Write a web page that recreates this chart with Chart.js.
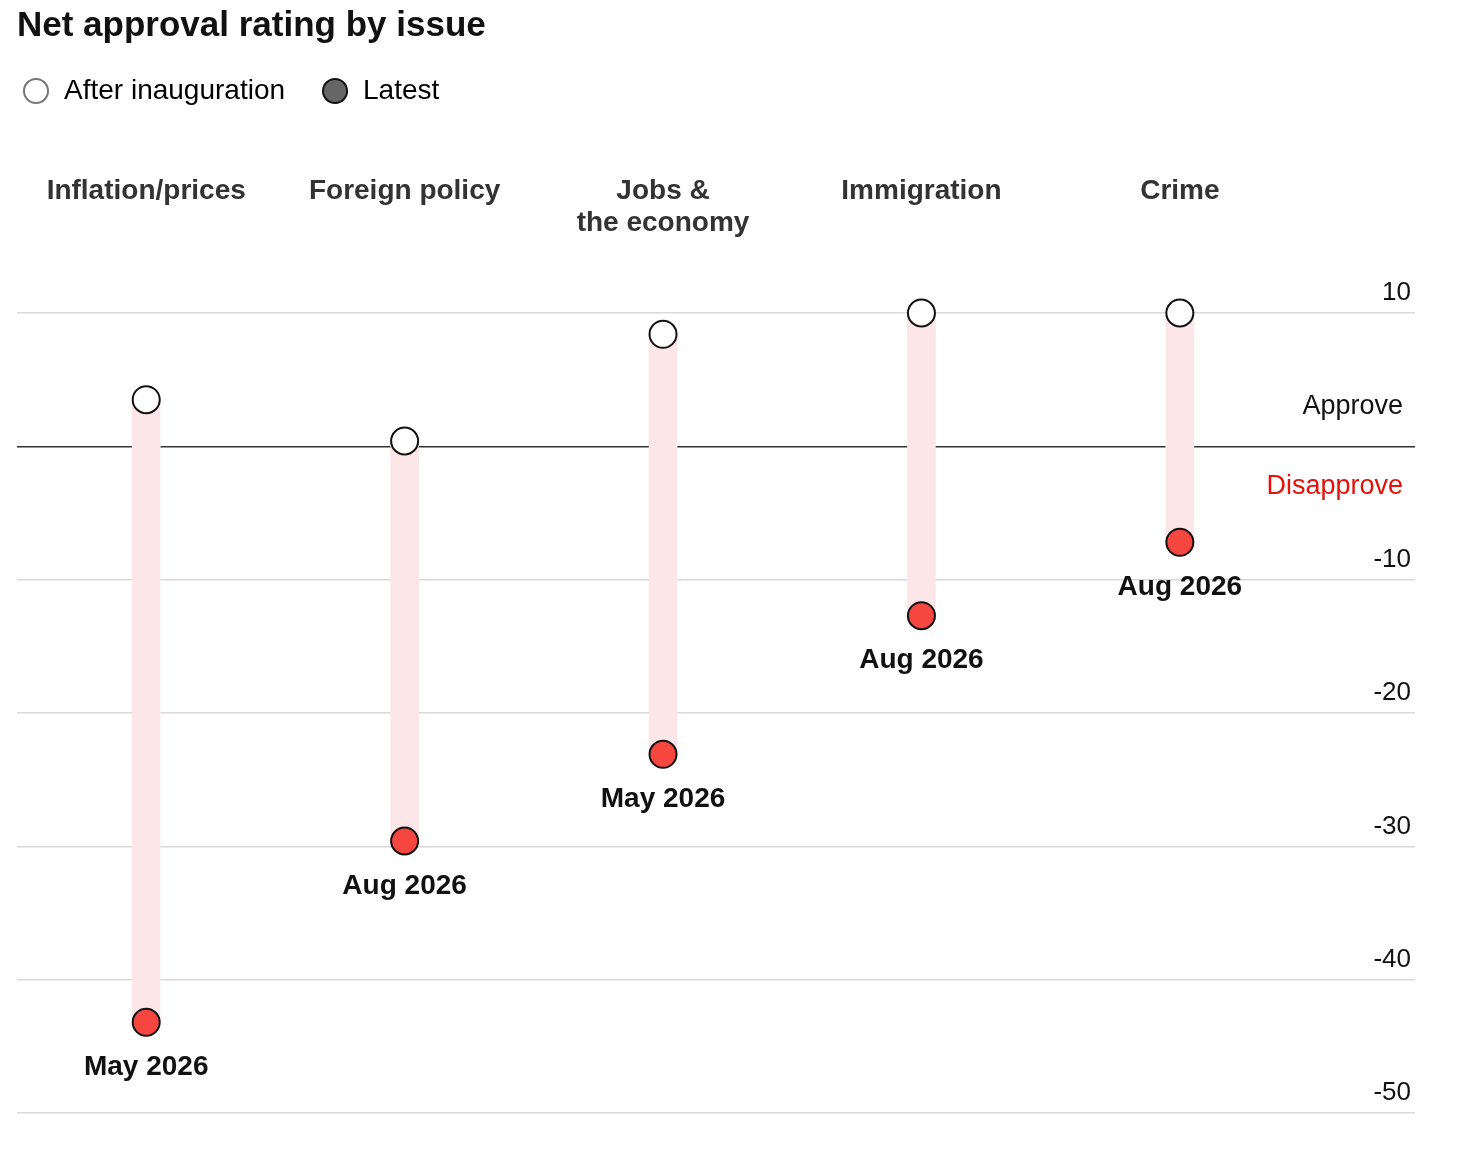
<!DOCTYPE html>
<html>
<head>
<meta charset="utf-8">
<script src="https://cdn.jsdelivr.net/npm/chart.js@4.4.1/dist/chart.umd.min.js"></script>
<style>
  html, body { margin: 0; padding: 0; background: #ffffff; }
  #wrap { width: 1466px; height: 1152px; position: relative; }
</style>
</head>
<body>
<div id="wrap"><canvas id="chart"></canvas></div>
<script>
// ---- Data ----
const categories = ['Inflation/prices', 'Foreign policy', ['Jobs &', 'the economy'], 'Immigration', 'Crime'];
const afterInauguration = [3.5, 0.4, 8.4, 10, 10];
const latest = [-43.2, -29.6, -23.1, -12.7, -7.2];
const latestDates = ['May 2026', 'Aug 2026', 'May 2026', 'Aug 2026', 'Aug 2026'];
const seriesNames = ['After inauguration', 'Latest'];
const yMin = -50, yMax = 10, yStep = 10;

// ---- Styles ----
const FONT = '"Liberation Sans", Arial, sans-serif';
const RED = '#f5463f';
const PINK = '#fde6e8';

const annotations = {
  id: 'annotations',
  afterLayout(chart) {
    chart.legend.left = 22 - chart.options.plugins.legend.labels.padding;
  },
  afterDatasetsDraw(chart) {
    const ctx = chart.ctx;
    const meta = chart.getDatasetMeta(1);
    ctx.save();
    ctx.font = 'bold 28px ' + FONT;
    ctx.fillStyle = '#111';
    ctx.textAlign = 'center';
    ctx.textBaseline = 'middle';
    meta.data.forEach((pt, i) => {
      ctx.fillText(latestDates[i], pt.x, pt.y + 45);
    });
    const y0 = chart.scales.y.getPixelForValue(0);
    const xr = chart.chartArea.right - 12;
    ctx.font = '27px ' + FONT;
    ctx.textAlign = 'right';
    ctx.fillStyle = '#111';
    ctx.fillText('Approve', xr, y0 - 40);
    ctx.fillStyle = '#e3120b';
    ctx.fillText('Disapprove', xr, y0 + 40);
    ctx.restore();
  }
};

new Chart(document.getElementById('chart'), {
  type: 'bar',
  data: {
    datasets: [
      {
        type: 'scatter',
        label: seriesNames[0],
        data: afterInauguration.map((v, i) => ({ x: i, y: v })),
        pointRadius: 13.5,
        pointHoverRadius: 13.5,
        pointBackgroundColor: '#ffffff',
        pointBorderColor: '#111111',
        pointBorderWidth: 2,
        clip: false
      },
      {
        type: 'scatter',
        label: seriesNames[1],
        data: latest.map((v, i) => ({ x: i, y: v })),
        pointRadius: 13.5,
        pointHoverRadius: 13.5,
        pointBackgroundColor: RED,
        pointBorderColor: '#111111',
        pointBorderWidth: 2,
        clip: false
      },
      {
        type: 'bar',
        label: 'range',
        data: afterInauguration.map((v, i) => ({ x: i, y: [v, latest[i]] })),
        backgroundColor: PINK,
        borderWidth: 0,
        barThickness: 28
      }
    ]
  },
  options: {
    responsive: true,
    maintainAspectRatio: false,
    animation: false,
    events: [],
    layout: { padding: { left: 17, right: 51, top: 0, bottom: 39 } },
    plugins: {
      tooltip: { enabled: false },
      title: {
        display: true,
        text: 'Net approval rating by issue',
        align: 'start',
        color: '#111',
        font: { family: FONT, weight: 'bold', size: 35, lineHeight: 1 },
        padding: { top: 9, bottom: -3 }
      },
      legend: {
        display: true,
        align: 'start',
        labels: {
          font: { family: FONT, size: 28 },
          color: '#111',
          usePointStyle: true,
          boxWidth: 28,
          boxHeight: 17,
          padding: 36,
          generateLabels: () => [
            { text: seriesNames[0], fillStyle: '#ffffff', strokeStyle: '#777777', lineWidth: 2, pointStyle: 'circle', hidden: false, datasetIndex: 0 },
            { text: seriesNames[1], fillStyle: '#666666', strokeStyle: '#111111', lineWidth: 2, pointStyle: 'circle', hidden: false, datasetIndex: 1 }
          ]
        }
      }
    },
    scales: {
      x: {
        type: 'linear',
        position: 'top',
        min: -0.5,
        max: 4.91,
        offset: false,
        grid: { display: false },
        border: { display: false },
        afterBuildTicks: (scale) => { scale.ticks = categories.map((_, i) => ({ value: i })); },
        afterFit: (scale) => { scale.height = 198; scale.paddingLeft = 0; scale.paddingRight = 0; },
        ticks: {
          autoSkip: false,
          maxRotation: 0,
          minRotation: 0,
          crossAlign: 'far',
          padding: 66,
          color: '#333',
          font: { family: FONT, weight: 'bold', size: 28, lineHeight: 32 / 28 },
          callback: (v) => categories[v]
        }
      },
      y: {
        type: 'linear',
        position: 'right',
        min: yMin,
        max: yMax,
        grid: {
          drawTicks: false,
          color: (c) => (c.tick && c.tick.value === 0 ? '#333333' : '#d9d9d9'),
          lineWidth: 1.6
        },
        border: { display: false },
        afterFit: (scale) => { scale.width = 0; scale.paddingTop = 0; scale.paddingBottom = 0; },
        ticks: {
          stepSize: yStep,
          mirror: true,
          padding: -4,
          labelOffset: -20,
          color: '#111',
          font: { family: FONT, size: 26 },
          callback: (v) => (v === 0 ? '' : String(v))
        }
      }
    }
  },
  plugins: [annotations]
});
</script>
</body>
</html>
